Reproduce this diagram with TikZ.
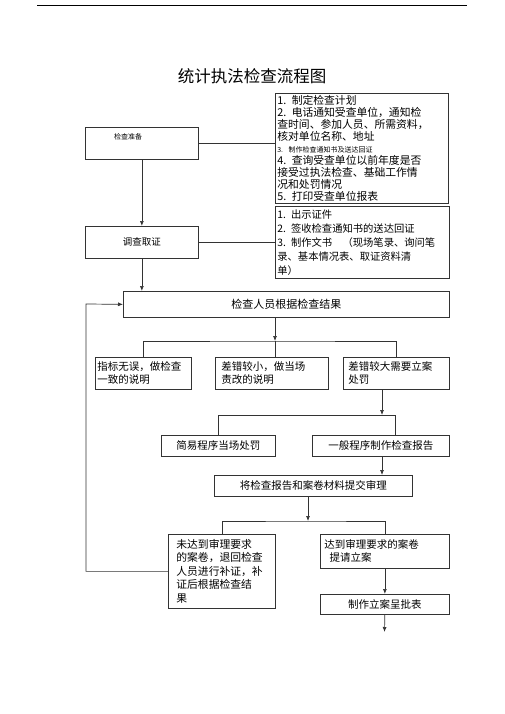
\documentclass[tikz,border=0pt]{standalone}
\usepackage{fontspec}
\newfontfamily\cjk{Noto Sans CJK SC}
\usetikzlibrary{arrows.meta}

\tikzset{
	box/.style={draw=black!80, line width=0.7pt, anchor=north west, align=left, inner xsep=2pt, inner ysep=1pt, font=\cjk\fontsize{10.5}{13}\selectfont},
	flow/.style={draw=black!80, line width=0.7pt},
	arr/.style={flow, -{Latex[length=5pt,width=4pt]}}
}

\begin{document}
\begin{tikzpicture}[x=1pt,y=-1pt]
	\useasboundingbox (0,0) rectangle (505,714);
	\draw[black, line width=1pt] (37,6) -- (467,6);
	\node[font=\cjk\fontsize{16.5}{18}\selectfont] (title) at (252,76) {统计执法检查流程图};

	% preparation and survey
	\node[box, minimum width=113pt, minimum height=32pt] (prep) at (85,127) {};
	\node[font=\cjk\fontsize{7}{8}\selectfont] (prept) at (128,137) {检查准备};
	\node[box, text width=169pt, minimum height=110pt, font=\cjk\fontsize{10.8}{11.9}\selectfont] (plan) at (275,93) {1. 制定检查计划\\2. 电话通知受查单位，通知检\\查时间、参加人员、所需资料，\\核对单位名称、地址\\{\fontsize{7}{10}\selectfont 3. 制作检查通知书及送达回证}\\4. 查询受查单位以前年度是否\\接受过执法检查、基础工作情\\况和处罚情况\\5. 打印受查单位报表};
	\node[box, align=center, minimum width=113pt, minimum height=32pt, font=\cjk\fontsize{9.5}{11}\selectfont] (survey) at (85,226) {调查取证};
	\node[box, text width=170pt, minimum height=72pt, font=\cjk\fontsize{10.3}{14}\selectfont] (docs) at (275,206) {1. 出示证件\\2. 签收检查通知书的送达回证\\3. 制作文书\quad（现场笔录、询问笔\\录、基本情况表、取证资料清\\单）};
	\draw[flow] (prep.east) -- (prep.east -| plan.west);
	\draw[flow] (survey.east) -- (survey.east -| docs.west);
	\draw[arr] (prep.south) -- (survey.north);

	% result
	\node[box, align=center, minimum width=326pt, minimum height=26pt, font=\cjk\fontsize{11}{13}\selectfont] (result) at (123,291) {检查人员根据检查结果};
	\draw[arr] (survey.south) -- (survey.south |- result.north);

	\node[box, text width=92pt, minimum height=32pt] (fine) at (95,357) {指标无误，做检查\\一致的说明};
	\node[box, text width=101pt, minimum height=32pt, inner xsep=6pt] (minor) at (215,357) {差错较小，做当场\\责改的说明};
	\node[box, text width=96pt, minimum height=32pt, inner xsep=5pt] (major) at (343,357) {差错较大需要立案\\处罚};
	\coordinate (split1) at (275,341);
	\draw[arr] (result.south -| split1) -- (split1);
	\draw[flow] (fine.north) |- (split1) -| (major.north);
	\draw[flow] (split1) -- (split1 |- minor.north);

	% procedures
	\node[box, align=center, minimum width=114pt, minimum height=21pt] (simple) at (161,435) {简易程序当场处罚};
	\node[box, align=center, minimum width=137pt, minimum height=21pt] (general) at (312,435) {一般程序制作检查报告};
	\coordinate (split2) at (382,415);
	\coordinate (j2) at (395,415);
	\draw[arr] (major.south -| split2) -- (split2);
	\draw[flow] (simple.north) |- (j2) -- (j2 |- general.north);

	\node[box, align=center, minimum width=198pt, minimum height=21pt] (review) at (214,475) {将检查报告和案卷材料提交审理};
	\draw[arr] (general.south -| split2) -- (split2 |- review.north);

	% review outcome
	\node[box, text width=91pt, minimum height=74pt, inner xsep=8pt, inner ysep=3pt, font=\cjk\fontsize{10.8}{13.5}\selectfont] (fail) at (168,534) {未达到审理要求\\的案卷，退回检查\\人员进行补证，补\\证后根据检查结\\果};
	\node[box, text width=121pt, minimum height=34pt, inner xsep=4pt] (pass) at (320,534) {达到审理要求的案卷\\\hspace{0.5em}提请立案};
	\coordinate (split3) at (308,521);
	\draw[arr] (review.south -| split3) -- (split3);
	\draw[flow] (fail.north) |- (split3) -| (pass.north);

	\node[box, align=center, minimum width=129pt, minimum height=20pt] (form) at (320,594) {制作立案呈批表};
	\coordinate (end) at (384.5,632);
	\draw[arr] (pass.south) -- (form.north);
	\draw[arr] (form.south) -- (end);

	% send back
	\coordinate (back) at (86,304);
	\draw[arr] (fail.west) -| (back) -- (result.west);
\end{tikzpicture}
\end{document}
